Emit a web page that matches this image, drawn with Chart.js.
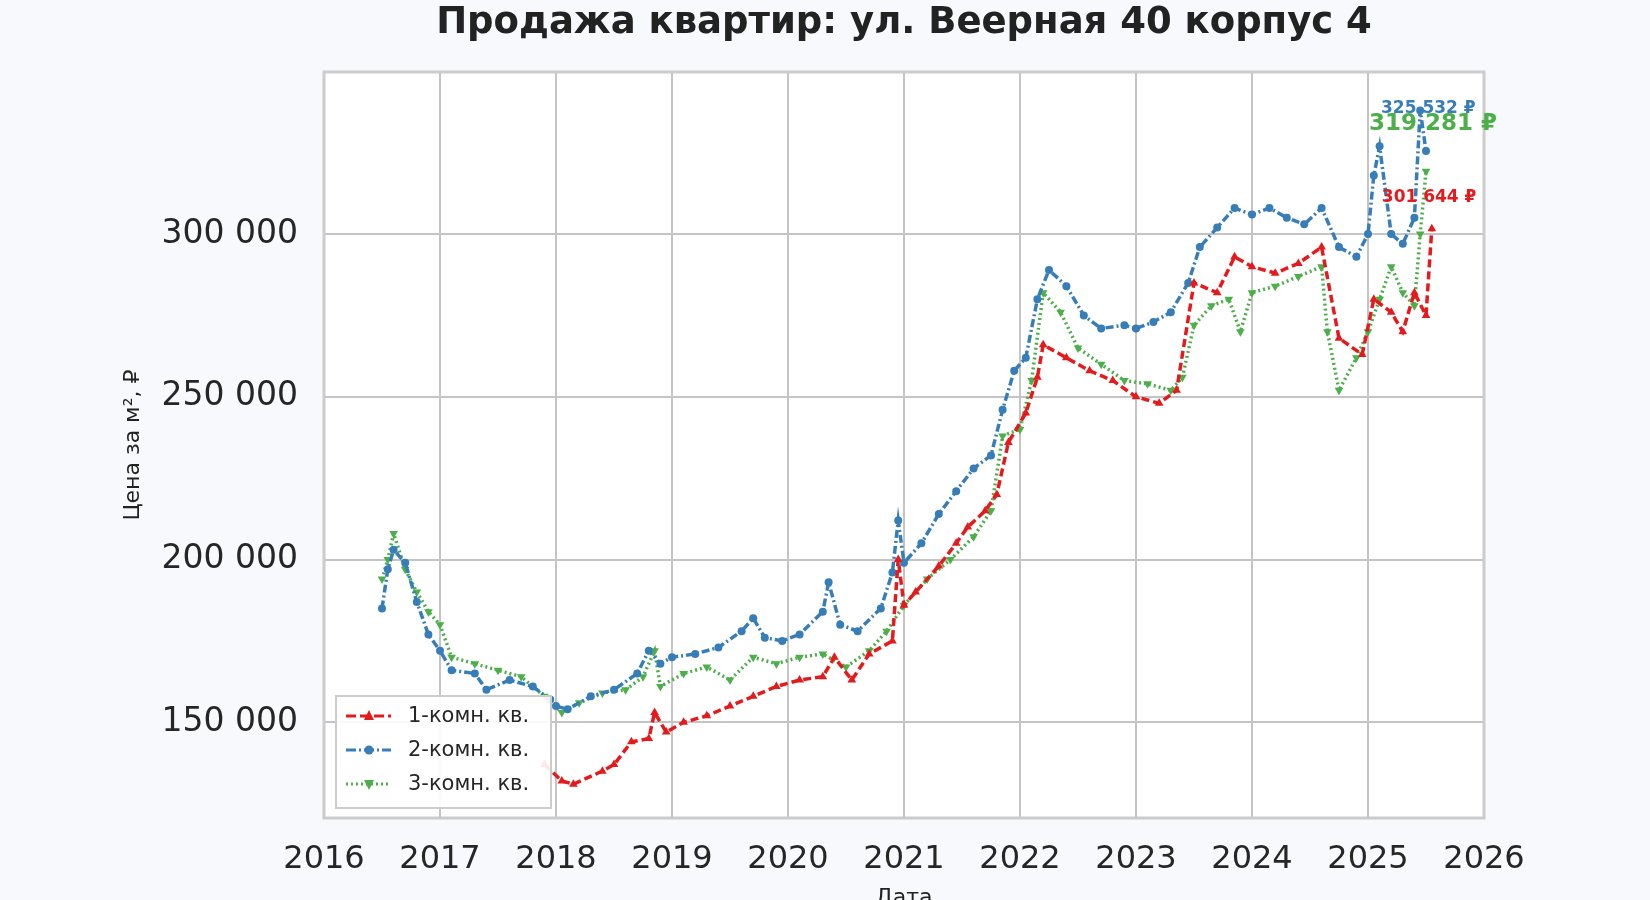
<!DOCTYPE html>
<html><head><meta charset="utf-8">
<script src="https://cdn.jsdelivr.net/npm/chart.js@4"></script>
<style>html,body{margin:0;background:#f7f9fc;}#w{width:1650px;height:900px;}</style>
</head><body><div id="w"><canvas id="c"></canvas></div>
<script>
const seriesNames=["1-комн. кв.","2-комн. кв.","3-комн. кв."];
const endLabels=["301 644 ₽","325 532 ₽","319 281 ₽"];
const xTicks=[2016,2017,2018,2019,2020,2021,2022,2023,2024,2025,2026];
const yTicks=[150000,200000,250000,300000];
const s1x=[2017.9,2018.05,2018.15,2018.4,2018.5,2018.65,2018.8,2018.85,2018.95,2019.1,2019.3,2019.5,2019.7,2019.9,2020.1,2020.3,2020.4,2020.55,2020.7,2020.9,2020.95,2021.0,2021.1,2021.3,2021.45,2021.55,2021.7,2021.8,2021.9,2022.05,2022.15,2022.2,2022.4,2022.6,2022.8,2023.0,2023.2,2023.35,2023.5,2023.7,2023.85,2024.0,2024.2,2024.4,2024.6,2024.75,2024.95,2025.05,2025.2,2025.3,2025.4,2025.5,2025.55];
const s1y=[137000,132000,131000,135000,137000,144000,145000,153000,147000,150000,152000,155000,158000,161000,163000,164000,170000,163000,171000,175000,200000,186000,190000,198000,205000,210000,215000,220000,236000,245000,256000,266000,262000,258000,255000,250000,248000,252000,285000,282000,293000,290000,288000,291000,296000,268000,263000,280000,276000,270000,282000,275000,301644];
const s2x=[2016.5,2016.55,2016.6,2016.7,2016.8,2016.9,2017.0,2017.1,2017.3,2017.4,2017.6,2017.8,2017.95,2018.0,2018.1,2018.3,2018.5,2018.7,2018.8,2018.9,2019.0,2019.2,2019.4,2019.6,2019.7,2019.8,2019.95,2020.1,2020.3,2020.35,2020.45,2020.6,2020.8,2020.9,2020.95,2021.0,2021.15,2021.3,2021.45,2021.6,2021.75,2021.85,2021.95,2022.05,2022.15,2022.25,2022.4,2022.55,2022.7,2022.9,2023.0,2023.15,2023.3,2023.45,2023.55,2023.7,2023.85,2024.0,2024.15,2024.3,2024.45,2024.6,2024.75,2024.9,2025.0,2025.05,2025.1,2025.2,2025.3,2025.4,2025.45,2025.5];
const s2y=[185000,197000,203000,199000,187000,177000,172000,166000,165000,160000,163000,161000,157000,155000,154000,158000,160000,165000,172000,168000,170000,171000,173000,178000,182000,176000,175000,177000,184000,193000,180000,178000,185000,196000,212000,199000,205000,214000,221000,228000,232000,246000,258000,262000,280000,289000,284000,275000,271000,272000,271000,273000,276000,285000,296000,302000,308000,306000,308000,305000,303000,308000,296000,293000,300000,318000,327000,300000,297000,305000,338000,325532];
const s3x=[2016.5,2016.55,2016.6,2016.7,2016.8,2016.9,2017.0,2017.1,2017.3,2017.5,2017.7,2017.9,2018.05,2018.2,2018.4,2018.6,2018.75,2018.85,2018.9,2019.1,2019.3,2019.5,2019.7,2019.9,2020.1,2020.3,2020.5,2020.7,2020.85,2021.0,2021.2,2021.4,2021.6,2021.75,2021.85,2022.0,2022.1,2022.2,2022.35,2022.5,2022.7,2022.9,2023.1,2023.3,2023.4,2023.5,2023.65,2023.8,2023.9,2024.0,2024.2,2024.4,2024.6,2024.65,2024.75,2024.9,2025.0,2025.1,2025.2,2025.3,2025.4,2025.45,2025.5];
const s3y=[194000,200000,208000,197000,190000,184000,180000,170000,168000,166000,164000,158000,153000,156000,159000,160000,164000,172000,161000,165000,167000,163000,170000,168000,170000,171000,167000,172000,178000,186000,194000,200000,207000,215000,238000,240000,255000,282000,276000,265000,260000,255000,254000,252000,256000,272000,278000,280000,270000,282000,284000,287000,290000,270000,252000,262000,270000,280000,290000,282000,278000,300000,319281];
const colors=["#e41a1c","#377eb8","#4daf4a"];
const pts=(xs,ys)=>xs.map((x,i)=>({x,y:ys[i]}));
const F="DejaVu Sans";
const deco={id:'deco',
 beforeDraw(ch){const a=ch.chartArea,c=ch.ctx;c.save();c.fillStyle='#fff';c.fillRect(a.left,a.top,a.right-a.left,a.bottom-a.top);c.restore();},
 afterDraw(ch){const a=ch.chartArea,c=ch.ctx;c.save();
  c.strokeStyle='#cccccc';c.lineWidth=3;c.strokeRect(a.left,a.top,a.right-a.left,a.bottom-a.top);
  c.fillStyle='#222';c.font='bold 37px '+F;c.textAlign='center';c.textBaseline='middle';
  c.fillText('Продажа квартир: ул. Веерная 40 корпус 4',(a.left+a.right)/2,23);
  c.font='22px '+F;c.fillText('Дата',(a.left+a.right)/2,898);
  c.save();c.translate(133,(a.top+a.bottom)/2);c.rotate(-Math.PI/2);c.fillText('Цена за м², ₽',0,0);c.restore();
  const sizes=[17,17,23], dys=[-31,-42,-47], dxs=[-50,-45,-57];
  ch.data.datasets.forEach((d,i)=>{const m=ch.getDatasetMeta(i);const p=m.data[m.data.length-1];
   c.font='bold '+sizes[i]+'px '+F;c.fillStyle=colors[i];c.textAlign='left';
   c.fillText(endLabels[i],p.x+dxs[i],p.y+dys[i]);});
  const lx=a.left+12,ly=a.bottom-122,lw=215,lh=112;
  c.fillStyle='rgba(255,255,255,0.9)';c.fillRect(lx,ly,lw,lh);c.strokeStyle='#cccccc';c.lineWidth=2;c.strokeRect(lx,ly,lw,lh);
  const dashes=[[10,4],[10,3,2,3],[2,3]];
  seriesNames.forEach((n,i)=>{const y=ly+20+i*34;c.strokeStyle=colors[i];c.lineWidth=3;c.setLineDash(dashes[i]);
   c.beginPath();c.moveTo(lx+10,y);c.lineTo(lx+55,y);c.stroke();c.setLineDash([]);
   c.fillStyle=colors[i];c.beginPath();
   if(i==1){c.arc(lx+33,y,4.5,0,7);}else if(i==0){c.moveTo(lx+33,y-6);c.lineTo(lx+38,y+4);c.lineTo(lx+28,y+4);}else{c.moveTo(lx+33,y+6);c.lineTo(lx+38,y-4);c.lineTo(lx+28,y-4);}
   c.fill();c.fillStyle='#262626';c.font='21px '+F;c.textAlign='left';c.fillText(n,lx+72,y+1);});
  c.restore();}
};
new Chart(document.getElementById('c'),{type:'scatter',
 data:{datasets:[
  {data:pts(s1x,s1y),borderColor:colors[0],backgroundColor:colors[0],borderDash:[8,4],pointStyle:'triangle',pointRadius:5},
  {data:pts(s2x,s2y),borderColor:colors[1],backgroundColor:colors[1],borderDash:[8,3,2,3],pointStyle:'circle',pointRadius:4},
  {data:pts(s3x,s3y),borderColor:colors[2],backgroundColor:colors[2],borderDash:[2,3],pointStyle:'triangle',rotation:180,pointRadius:5}
 ].map(d=>Object.assign(d,{showLine:true,borderWidth:3.5,pointBorderWidth:0}))},
 options:{responsive:true,maintainAspectRatio:false,animation:false,
  layout:{padding:{top:72,right:166,left:0,bottom:0}},
  plugins:{legend:{display:false},tooltip:{enabled:false}},
  scales:{
   x:{type:'linear',min:2016,max:2026,afterBuildTicks(s){s.ticks=xTicks.map(v=>({value:v}));},afterFit(s){s.height=82;},
    grid:{color:'#c4c4c4',lineWidth:2,drawTicks:false},border:{display:false},
    ticks:{color:'#262626',font:{family:F,size:32},padding:22,callback:v=>String(v),maxRotation:0}},
   y:{min:120600,max:349800,afterBuildTicks(s){s.ticks=yTicks.map(v=>({value:v}));},afterFit(s){s.width=324;},
    grid:{color:'#c4c4c4',lineWidth:2,drawTicks:false},border:{display:false},
    ticks:{color:'#262626',font:{family:F,size:33},padding:26,callback:v=>v.toLocaleString('en').replace(/,/g,' ')}}
  }},
 plugins:[deco]});
</script></body></html>
